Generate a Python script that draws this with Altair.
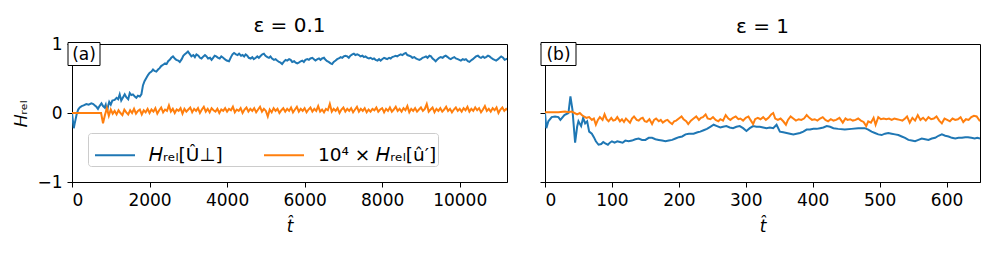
import altair as alt
import pandas as pd

S1 = "𝐻ᵣₑₗ[Û⊥]"
S2 = "10⁴ × 𝐻ᵣₑₗ[û′]"
BLUE = "#1f77b4"
ORANGE = "#ff7f0e"
FONT = "DejaVu Sans"

# ---------------- panel (a): epsilon = 0.1 ----------------
a_blue_t = [0, 20, 45, 70, 90, 120, 160, 200, 250, 300, 370, 430, 500, 550, 590, 630, 670, 710, 760, 800,
            840, 870, 905, 930, 960, 1000, 1040, 1100, 1150, 1190, 1230, 1270, 1310, 1360, 1400, 1450, 1490,
            1530, 1570, 1620, 1660, 1700, 1750, 1790, 1830, 1870, 1920, 1960, 2000, 2050, 2090, 2130, 2175,
            2220, 2260, 2300, 2350, 2400, 2440, 2480, 2520, 2560, 2605, 2650, 2690, 2740, 2780, 2830, 2870,
            2910, 2950, 2990, 3030, 3080, 3130, 3170, 3210, 3260, 3300, 3340, 3390, 3430, 3470, 3510, 3560,
            3600, 3640, 3680, 3720, 3770, 3810, 3850, 3900, 3940, 3990, 4050, 4100, 4140, 4180, 4230, 4270,
            4310, 4360, 4400, 4440, 4480, 4520, 4560, 4610, 4650, 4690, 4740, 4780, 4820, 4870, 4910, 4950,
            4990, 5040, 5080, 5120, 5160, 5210, 5250, 5290, 5340, 5380, 5420, 5460, 5510, 5550, 5600, 5640,
            5680, 5730, 5770, 5810, 5850, 5900, 5940, 5980, 6020, 6070, 6110, 6150, 6200, 6240, 6280, 6330,
            6370, 6410, 6450, 6500, 6540, 6580, 6620, 6670, 6710, 6750, 6800, 6840, 6880, 6930, 6970, 7010,
            7050, 7100, 7140, 7180, 7230, 7270, 7310, 7360, 7400, 7440, 7490, 7530, 7570, 7620, 7660, 7700,
            7750, 7790, 7830, 7880, 7920, 7960, 8000, 8050, 8090, 8130, 8180, 8220, 8260, 8310, 8350, 8390,
            8440, 8480, 8520, 8570, 8610, 8650, 8700, 8740, 8780, 8830, 8870, 8910, 8960, 9000, 9040, 9090,
            9130, 9170, 9220, 9260, 9300, 9340, 9380, 9430, 9470, 9510, 9560, 9600, 9640, 9690, 9730, 9770,
            9820, 9860, 9900, 9950, 9990, 10030, 10080, 10120, 10160, 10210, 10250, 10290, 10340, 10380,
            10420, 10470, 10510, 10550, 10600, 10640, 10680, 10730, 10770, 10810, 10860, 10900, 10940,
            10990, 11030, 11070, 11120, 11160, 11200, 11250]
a_blue_v = [0.0, -0.1, -0.22, -0.15, -0.1, -0.02, 0.05, 0.08, 0.10, 0.11, 0.13, 0.12, 0.14, 0.13, 0.11, 0.09,
            0.06, 0.1, 0.14, 0.1, 0.08, 0.12, 0.02, 0.1, 0.16, 0.12, 0.18, 0.19, 0.22, 0.2, 0.27, 0.18, 0.22,
            0.27, 0.23, 0.2, 0.29, 0.26, 0.27, 0.24, 0.22, 0.25, 0.24, 0.27, 0.4, 0.46, 0.51, 0.55, 0.58, 0.6,
            0.63, 0.61, 0.6, 0.63, 0.65, 0.68, 0.7, 0.72, 0.71, 0.75, 0.77, 0.8, 0.82, 0.79, 0.77, 0.76, 0.74,
            0.78, 0.83, 0.85, 0.87, 0.89, 0.86, 0.82, 0.84, 0.81, 0.85, 0.83, 0.8, 0.79, 0.82, 0.84, 0.82,
            0.79, 0.8, 0.77, 0.8, 0.83, 0.82, 0.8, 0.79, 0.82, 0.8, 0.78, 0.76, 0.75, 0.81, 0.85, 0.87, 0.85,
            0.84, 0.86, 0.83, 0.84, 0.82, 0.85, 0.83, 0.8, 0.79, 0.81, 0.78, 0.8, 0.82, 0.8, 0.83, 0.85, 0.86,
            0.83, 0.81, 0.8, 0.82, 0.79, 0.77, 0.78, 0.76, 0.74, 0.73, 0.71, 0.74, 0.77, 0.76, 0.78, 0.77,
            0.74, 0.75, 0.73, 0.72, 0.73, 0.75, 0.76, 0.74, 0.77, 0.78, 0.77, 0.79, 0.8, 0.78, 0.76, 0.78,
            0.79, 0.77, 0.79, 0.8, 0.77, 0.75, 0.74, 0.72, 0.71, 0.74, 0.76, 0.78, 0.79, 0.81, 0.8, 0.82,
            0.83, 0.82, 0.8, 0.83, 0.85, 0.86, 0.84, 0.85, 0.84, 0.82, 0.83, 0.81, 0.82, 0.8, 0.79, 0.8,
            0.78, 0.79, 0.77, 0.76, 0.78, 0.76, 0.78, 0.8, 0.79, 0.78, 0.8, 0.79, 0.81, 0.82, 0.83, 0.82,
            0.84, 0.85, 0.84, 0.86, 0.87, 0.84, 0.83, 0.82, 0.8, 0.81, 0.79, 0.78, 0.77, 0.78, 0.8, 0.81,
            0.82, 0.8, 0.83, 0.82, 0.79, 0.77, 0.75, 0.78, 0.8, 0.81, 0.8, 0.82, 0.83, 0.81, 0.79, 0.78,
            0.8, 0.81, 0.79, 0.78, 0.77, 0.76, 0.78, 0.77, 0.78, 0.75, 0.74, 0.76, 0.78, 0.8, 0.82, 0.83,
            0.81, 0.8, 0.82, 0.8, 0.81, 0.83, 0.82, 0.8, 0.78, 0.77, 0.76, 0.78, 0.8, 0.82, 0.8, 0.77,
            0.78, 0.79]

a_orange_t = list(range(0, 11251, 50))
a_orange_v = [0, 0, 0, 0, 0, 0, 0, 0, 0, 0,
              0, 0, 0, 0, 0, 0, -0.15, -0.03, 0.07, -0.04,
              0.05, -0.01, 0.03, -0.02, 0.04, 0.0, -0.03, 0.05, 0.01, -0.02,
              0.04, 0.0, 0.06, -0.01, 0.03, 0.05, -0.02, 0.04, 0.01, 0.06,
              0.0, 0.05, 0.02, 0.07, -0.01, 0.04, 0.08, 0.01, 0.05, 0.03,
              0.11, 0.02, 0.06, 0.0, 0.05, 0.03, 0.07, -0.01, 0.06, 0.02,
              0.05, 0.08, 0.01, 0.06, 0.03, 0.07, 0.0, 0.05, 0.09, 0.02,
              0.06, 0.01, 0.07, 0.04, 0.02, 0.06, 0.0, 0.05, 0.03, 0.07,
              0.02, 0.06, 0.04, 0.09, 0.01, 0.05, 0.03, 0.07, 0.0, 0.05,
              0.08, 0.02, 0.06, 0.03, 0.07, 0.01, 0.05, 0.09, 0.02, 0.06,
              0.03, -0.05, 0.05, 0.01, 0.07, 0.03, 0.06, 0.0, 0.04, 0.07,
              0.02, 0.06, 0.03, 0.08, 0.01, 0.05, 0.09, 0.02, 0.06, 0.03,
              0.07, 0.01, 0.05, 0.08, 0.02, 0.06, 0.03, 0.1, 0.02, 0.05,
              0.01, 0.06, 0.04, 0.13, 0.02, 0.06, 0.03, 0.07, 0.0, 0.05,
              0.08, 0.02, 0.06, 0.03, 0.07, 0.01, 0.05, 0.09, 0.02, 0.06,
              0.03, 0.07, 0.01, 0.05, 0.02, 0.06, 0.04, 0.08, 0.02, 0.05,
              0.07, 0.01, 0.06, 0.03, 0.08, 0.02, 0.05, 0.09, 0.03, 0.06,
              0.02, 0.07, 0.04, 0.1, 0.01, 0.06, 0.03, 0.07, 0.02, 0.05,
              0.08, 0.03, 0.06, 0.13, 0.02, 0.05, 0.08, 0.01, 0.06, 0.03,
              0.07, 0.02, 0.05, 0.09, 0.03, 0.06, 0.01, 0.05, 0.08, 0.03,
              0.06, 0.02, 0.07, 0.04, 0.09, 0.02, 0.06, 0.03, 0.08, 0.04,
              0.07, 0.01, 0.05, 0.1, 0.03, 0.06, 0.02, 0.07, 0.04, 0.08,
              0.0, 0.05, 0.08, 0.03, 0.06, 0.04]

# ---------------- panel (b): epsilon = 1 ----------------
b_blue_t = [0, 2, 5, 10, 15, 20, 23, 29, 35, 38, 41, 45, 48, 50, 54, 57, 60, 63, 66, 70, 73, 76, 80, 84, 87,
            90, 94, 97, 100, 104, 108, 112, 116, 120, 125, 130, 135, 140, 145, 150, 155, 160, 165, 170, 175,
            180, 185, 190, 195, 200, 205, 210, 215, 222, 228, 232, 237, 242, 247, 252, 257, 262, 266, 271,
            276, 281, 286, 291, 296, 301, 306, 311, 316, 321, 326, 331, 336, 341, 346, 351, 356, 361, 366,
            371, 376, 381, 386, 391, 396, 401, 406, 411, 416, 421, 426, 431, 438, 448, 458, 468, 478, 483,
            488, 493, 498, 503, 508, 513, 518, 523, 528, 533, 538, 543, 548, 553, 558, 563, 568, 573, 578,
            583, 588, 593, 598, 603, 608, 613, 618, 623, 628, 632, 637, 642, 646, 650]
b_blue_v = [0.0, -0.22, -0.12, -0.06, -0.05, -0.06, -0.1, -0.03, 0.0, 0.24, 0.05, -0.43, -0.2, -0.12, -0.19,
            -0.07, -0.15, -0.12, -0.27, -0.3, -0.35, -0.41, -0.46, -0.45, -0.42, -0.44, -0.46, -0.43, -0.41,
            -0.43, -0.41, -0.42, -0.43, -0.40, -0.41, -0.4, -0.38, -0.37, -0.39, -0.39, -0.36, -0.36, -0.38,
            -0.39, -0.4, -0.41, -0.4, -0.39, -0.37, -0.35, -0.34, -0.31, -0.3, -0.3, -0.28, -0.27, -0.25,
            -0.23, -0.2, -0.17, -0.19, -0.21, -0.2, -0.19, -0.21, -0.22, -0.2, -0.19, -0.22, -0.26, -0.22,
            -0.19, -0.2, -0.2, -0.21, -0.22, -0.21, -0.22, -0.17, -0.27, -0.28, -0.29, -0.3, -0.31, -0.3,
            -0.29, -0.27, -0.24, -0.24, -0.23, -0.23, -0.22, -0.21, -0.19, -0.2, -0.22, -0.23, -0.24, -0.23,
            -0.22, -0.22, -0.24, -0.27, -0.29, -0.31, -0.32, -0.3, -0.29, -0.3, -0.31, -0.32, -0.34, -0.36,
            -0.39, -0.4, -0.41, -0.39, -0.37, -0.38, -0.39, -0.37, -0.36, -0.33, -0.31, -0.33, -0.34, -0.36,
            -0.37, -0.36, -0.36, -0.35, -0.35, -0.36, -0.37, -0.36, -0.37]

b_orange_t = [0, 10, 20, 30, 35, 40, 44, 48, 52, 55, 58, 62, 66, 70, 73, 76, 79, 82, 86, 89, 92, 95, 99, 102,
              105, 108, 112, 115, 118, 121, 124, 127, 130, 133, 137, 140, 143, 146, 149, 152, 156, 160, 163,
              166, 170, 173, 176, 180, 183, 186, 190, 193, 196, 200, 204, 207, 211, 214, 218, 222, 226, 230,
              233, 236, 240, 243, 247, 251, 255, 259, 262, 266, 270, 274, 277, 281, 285, 289, 292, 296, 300,
              304, 307, 311, 314, 318, 322, 326, 330, 334, 338, 341, 344, 348, 352, 356, 360, 363, 367, 371,
              375, 379, 383, 387, 391, 395, 399, 403, 407, 411, 415, 419, 423, 427, 431, 435, 440, 445, 449,
              452, 456, 460, 464, 468, 472, 476, 480, 483, 487, 491, 494, 498, 502, 506, 510, 514, 518, 522,
              526, 530, 534, 538, 541, 545, 549, 553, 557, 561, 565, 569, 573, 577, 581, 585, 589, 593, 597,
              601, 605, 609, 613, 617, 621, 625, 629, 633, 637, 641, 645, 650]
b_orange_v = [0.01, 0.01, 0.01, 0.02, 0.01, 0.02, 0.0, -0.02, 0.0, -0.03, -0.05, -0.07, -0.06, -0.1, -0.08,
              -0.17, -0.1, -0.06, -0.1, -0.02, -0.09, -0.12, -0.07, -0.11, -0.1, -0.06, -0.12, -0.09, -0.13,
              -0.08, -0.11, -0.14, -0.08, -0.05, -0.1, -0.11, -0.08, -0.07, -0.12, -0.13, -0.09, -0.16, -0.1,
              -0.08, -0.12, -0.1, -0.14, -0.11, -0.1, -0.13, -0.16, -0.12, -0.11, -0.08, -0.05, -0.09, -0.12,
              -0.16, -0.11, -0.08, -0.05, -0.1, -0.07, -0.06, -0.02, -0.08, -0.09, -0.06, -0.1, -0.12, -0.09,
              -0.11, -0.03, -0.08, -0.1, -0.07, -0.05, -0.09, -0.08, -0.11, -0.07, -0.05, -0.1, -0.16, -0.09,
              -0.07, -0.09, -0.06, -0.1, -0.07, -0.02, 0.0, -0.08, -0.1, -0.08, -0.12, -0.17, -0.1, -0.05,
              -0.08, -0.11, -0.09, -0.1, -0.08, -0.03, -0.07, -0.1, -0.09, -0.11, -0.08, -0.06, -0.1, -0.12,
              -0.09, -0.11, -0.1, -0.07, -0.14, -0.08, -0.1, -0.09, -0.11, -0.1, -0.08, -0.11, -0.13, -0.19,
              -0.12, -0.14, -0.07, -0.17, -0.06, -0.09, -0.08, -0.09, -0.08, -0.1, -0.08, -0.09, -0.1, -0.11,
              -0.08, -0.05, -0.14, -0.07, -0.11, -0.03, -0.1, -0.07, -0.11, -0.06, -0.09, -0.08, -0.05, -0.11,
              -0.15, -0.08, -0.1, -0.12, -0.08, -0.1, -0.09, -0.06, -0.13, -0.09, -0.1, -0.06, -0.04, -0.05,
              -0.12]

a_xticks = [0, 2000, 4000, 6000, 8000, 10000]
b_xticks = [0, 100, 200, 300, 400, 500, 600]
yticks = [-1, 0, 1]

FS = 17


def panel(bt, bv, ot, ov, xmax, xticks, lab, lab_w, title, first, title_offset):
    dfb = pd.DataFrame({"t": bt, "v": bv, "s": S1})
    dfo = pd.DataFrame({"t": ot, "v": ov, "s": S2})
    x = alt.X("t:Q", scale=alt.Scale(domain=[0, xmax], nice=False, zero=False),
              axis=alt.Axis(values=xticks, format="d", title="t\u0302", titleFontStyle="italic",
                            titlePadding=10))
    y = alt.Y("v:Q", scale=alt.Scale(domain=[-1, 1], nice=False),
              axis=alt.Axis(values=yticks, labels=first, labelOverlap=False,
                            labelExpr="replace(format(datum.value, 'd'), '-', '\u2212')",
                            title="𝐻ᵣₑₗ" if first else None))
    if first:
        leg = alt.Legend(orient="none", legendX=16, legendY=89, direction="horizontal", title=None,
                         symbolType="stroke", symbolSize=1600, symbolStrokeWidth=2, symbolOffset=5,
                         labelFontSize=18.5, labelFont=FONT, labelColor="black",
                         padding=1, strokeColor="#cccccc", fillColor="rgba(255,255,255,0.8)",
                         cornerRadius=3, columnPadding=35, labelOffset=13)
    else:
        leg = None
    color = alt.Color("s:N", scale=alt.Scale(domain=[S1, S2], range=[BLUE, ORANGE]), legend=leg)
    lb = alt.Chart(dfb).mark_line(strokeWidth=2, clip=True).encode(x=x, y=y, color=color)
    lo = alt.Chart(dfo).mark_line(strokeWidth=2, clip=True).encode(x=x, y=y, color=color)
    dlab = pd.DataFrame({"lab": [lab]})
    box = alt.Chart(dlab).mark_rect(fill="white", stroke="black", strokeWidth=1).encode(
        x=alt.value(-4), x2=alt.value(lab_w), y=alt.value(-1.5), y2=alt.value(21.5))
    txt = alt.Chart(dlab).mark_text(fontSize=FS, font=FONT, color="black", align="center",
                                    baseline="middle").encode(
        x=alt.value((lab_w - 4) / 2), y=alt.value(10.5), text="lab:N")
    return alt.layer(lb, lo, box, txt).properties(
        width=435, height=138,
        title=alt.TitleParams(text=title, fontSize=20, fontWeight="normal", font=FONT, color="black",
                              anchor="middle", offset=title_offset))


pa = panel(a_blue_t, a_blue_v, a_orange_t, a_orange_v, 11220, a_xticks, "(a)", 28, "ε = 0.1", True, -1)
pb = panel(b_blue_t, b_blue_v, b_orange_t, b_orange_v, 650, b_xticks, "(b)", 31, "ε = 1", False, 5)

chart = alt.hconcat(pa, pb, spacing=31).resolve_scale(color="independent").properties(
    padding={"left": 4, "top": 7, "right": 5, "bottom": 5}, background="white"
).configure_view(stroke="black", strokeWidth=1).configure_axis(
    grid=False, domainColor="black", tickColor="black", tickSize=5, tickWidth=1,
    labelFontSize=FS, titleFontSize=FS, labelFont=FONT, titleFont=FONT, titleFontWeight="normal",
    labelColor="black", titleColor="black", labelPadding=5, titlePadding=6
)

chart.save("out.html", embed_options={"renderer": "svg", "actions": False})
